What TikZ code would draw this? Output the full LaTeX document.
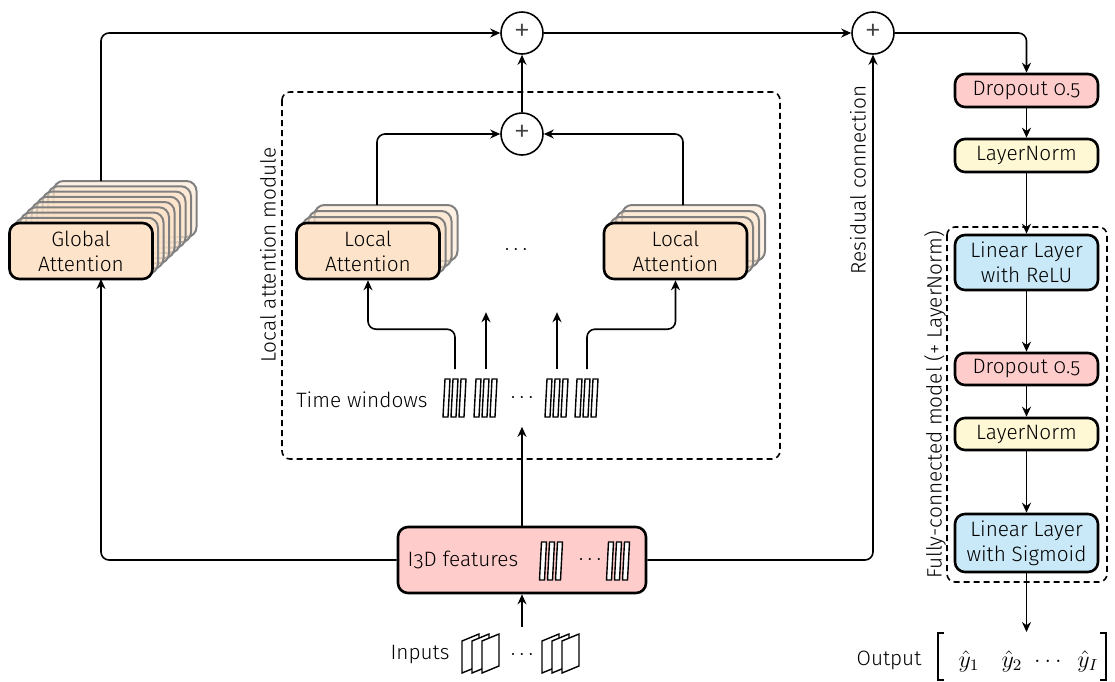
\documentclass[tikz,border=0pt]{standalone}
\usepackage{fontspec}
\setmainfont{Fira Sans}[UprightFont=* Light, Numbers=OldStyle]
\usetikzlibrary{arrows.meta,calc}
\definecolor{attc}{HTML}{FDE3C9}
\definecolor{pinkc}{HTML}{FFCCCC}
\definecolor{yelc}{HTML}{FFF8D5}
\definecolor{bluec}{HTML}{C9E9F8}
\tikzset{
  box/.style={draw=black, line width=1.3pt, rounded corners=5pt, align=center, inner sep=0pt},
  att/.style={box, fill=attc, minimum width=71.5pt, minimum height=28pt},
  ghost/.style={att, fill opacity=0.5, draw=black!50, line width=1pt},
  pinkbox/.style={box, fill=pinkc, minimum width=71.5pt, minimum height=16.5pt},
  yelbox/.style={box, fill=yelc, minimum width=71.5pt, minimum height=16.5pt},
  bluebox/.style={box, fill=bluec, minimum width=71.5pt, minimum height=28pt},
  sumnode/.style={circle, draw, line width=0.8pt, minimum size=21pt, inner sep=0pt, font=\fontsize{17}{17}\selectfont, text=black!75},
  dbox/.style={draw, dashed, dash pattern=on 3pt off 2pt, line width=0.8pt, rounded corners=4pt},
  holder/.style={inner sep=0pt, minimum width=12pt, minimum height=28pt},
  lbl/.style={inner sep=0pt},
  mlbl/.style={inner sep=0pt, font=\fontsize{12}{14}\selectfont},
  conn/.style={->, line width=0.8pt, rounded corners=4pt},
  bars/.pic={\foreach \i in {0,1,2} \draw[line width=0.7pt, fill=white] (-12+8*\i,19) -- ++(5,0) -- ++(2,-38) -- ++(-5,0) -- cycle;},
  frames/.pic={\foreach \i in {0,1,2} \draw[line width=0.7pt, fill=white] (-19+10*\i,19) -- ++(0,-32) -- ++(17,-7) -- ++(0,32) -- cycle;}
}
\begin{document}
\begin{tikzpicture}[x=0.5pt,y=-0.5pt, >={Stealth[length=5pt,width=4.5pt]}, line width=0.8pt, font=\fontsize{10.4}{12.4}\selectfont]
\useasboundingbox (0,0) rectangle (1115,681);

% sum nodes
\node[sumnode] (c1) at (522,33) {+};
\node[sumnode] (c2) at (522,134) {+};
\node[sumnode] (c3) at (873,33) {+};

% local attention module box
\draw[dbox] (282,92) rectangle (780,459);
\node[lbl, rotate=90] (lamlbl) at (268,255) {Local attention module};

% global attention stack
\foreach \k in {8,7,...,1} \node[ghost] at (81+5.5*\k,251-5.25*\k) {};
\node[att] (ga) at (81,251) {Global\\Attention};
\coordinate (gtop) at (101,181);
\coordinate (gbot) at (101,279);

% local attention stacks
\foreach \k in {3,2,1} \node[ghost] at (368+6*\k,251-6*\k) {};
\node[att] (la1) at (368,251) {Local\\Attention};
\foreach \k in {3,2,1} \node[ghost] at (675.5+6*\k,251-6*\k) {};
\node[att] (la2) at (675.5,251) {Local\\Attention};
\node[lbl] (ldots) at (516,250) {$\cdots$};
\coordinate (l1top) at (377,205);
\coordinate (l2top) at (683,205);

% time windows
\node[lbl] (twlbl) at (362,400) {Time windows};
\node[holder] (w1) at (455,398) {}; \pic at (w1) {bars};
\node[holder] (w2) at (486,398) {}; \pic at (w2) {bars};
\node[holder] (wd) at (522,398) {$\cdots$};
\node[holder] (w3) at (557,398) {}; \pic at (w3) {bars};
\node[holder] (w4) at (587,398) {}; \pic at (w4) {bars};

% I3D features
\node[box, fill=pinkc, minimum width=124pt, minimum height=33pt] (i3d) at (522,560) {};
\node[lbl] (i3dlbl) at (463,560) {I3D features};
\pic at (551.5,561) {bars};
\node[lbl] (i3ddots) at (590,560) {$\cdots$};
\pic at (618.5,561) {bars};

% inputs
\node[lbl] (inlbl) at (420,654) {Inputs};
\pic at (481,654) {frames};
\node[holder, minimum height=27pt] (indots) at (522,655) {$\cdots$};
\pic at (561,654) {frames};

% right column
\node[pinkbox] (d1) at (1026.5,90.5) {Dropout 0.5};
\node[yelbox] (n1) at (1026.5,155.5) {LayerNorm};
\draw[dbox] (947,227) rectangle (1107,582);
\node[lbl, rotate=90] (fclbl) at (935,405) {Fully-connected model (+ LayerNorm)};
\node[bluebox, minimum height=27.5pt] (lr) at (1026.5,262.5) {Linear Layer\\with ReLU};
\node[pinkbox, minimum height=16pt] (d2) at (1026.5,369) {Dropout 0.5};
\node[yelbox, minimum height=16pt] (n2) at (1026.5,434) {LayerNorm};
\node[bluebox, minimum height=29pt] (ls) at (1026.5,543) {Linear Layer\\with Sigmoid};

% output
\node[lbl] (outlbl) at (889,660) {Output};
\draw[line width=0.6pt] (944,633) -- (938,633) -- (938,680) -- (944,680);
\draw[line width=0.6pt] (1100,633) -- (1106,633) -- (1106,680) -- (1100,680);
\node[mlbl] (y1) at (969,661) {$\hat{y}_1$};
\node[mlbl] (y2) at (1012,661) {$\hat{y}_2$};
\node[mlbl] (ydots) at (1048,661) {$\dots$};
\node[mlbl] (yI) at (1088,661) {$\hat{y}_I$};
\coordinate (outtop) at (1026.5,632);

% residual label
\node[lbl, rotate=90] (reslbl) at (858,180) {Residual connection};

% connectors
\draw[conn] (gtop) |- (c1);
\draw[conn] (c1) -- (c3);
\draw[conn] (c2) -- (c1);
\draw[conn] (l1top) |- (c2);
\draw[conn] (l2top) |- (c2);
\draw[conn] (i3d.west) -| (gbot);
\draw[conn] (i3d.east) -| (c3);
\draw[conn] (i3d.north) -- (wd.south);
\draw[conn] (indots.north) -- (i3d.south);
\draw[conn] (w1.north) -- ++(0,-40) -| (la1.south);
\draw[conn] (w4.north) -- ++(0,-40) -| (la2.south);
\draw[conn] (w2.north) -- ++(0,-57);
\draw[conn] (w3.north) -- ++(0,-57);
\draw[conn] (c3) -| (d1.north);
\draw[conn] (d1) -- (n1);
\draw[conn] (n1) -- (lr);
\draw[conn] (lr) -- (d2);
\draw[conn] (d2) -- (n2);
\draw[conn] (n2) -- (ls);
\draw[conn] (ls.south) -- (outtop);
\end{tikzpicture}
\end{document}
